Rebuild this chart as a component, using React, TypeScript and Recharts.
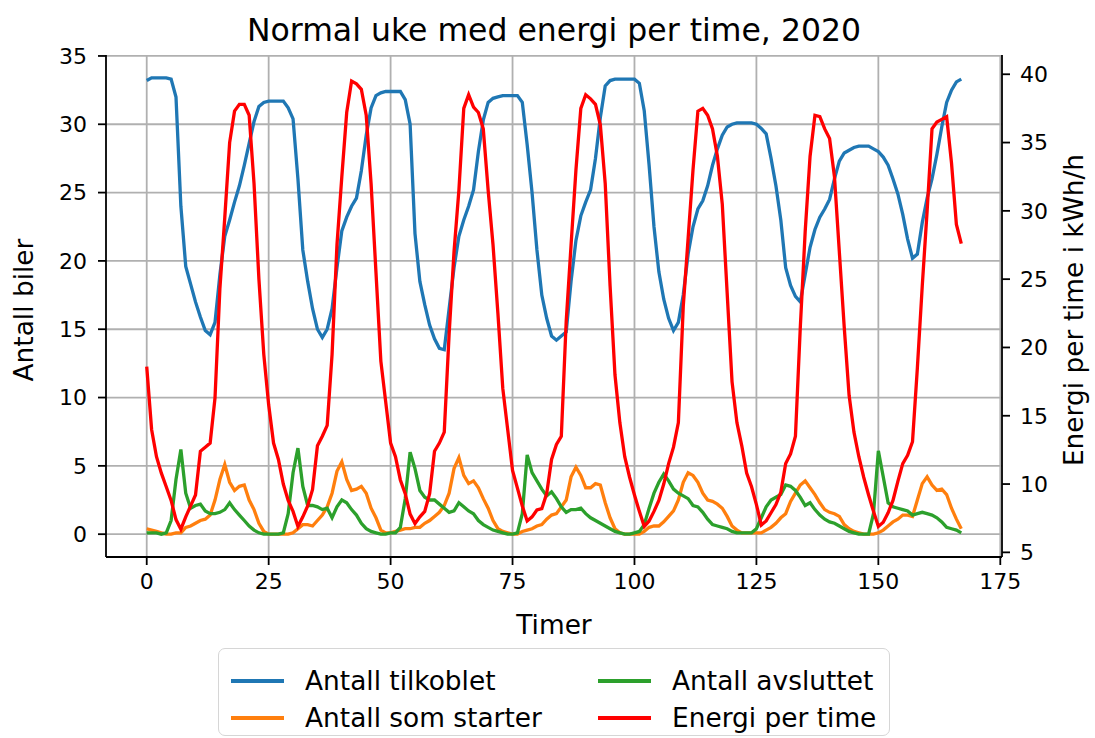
import { LineChart, Line, XAxis, YAxis, CartesianGrid } from "recharts";

const FONT = "'DejaVu Sans', sans-serif";

// hours of the week 0..167
const hours = Array.from({ length: 168 }, (_, i) => i);

const tilkoblet = [
  33.2, 33.4, 33.4, 33.4, 33.4, 33.3, 32.0, 24.0, 19.6, 18.3, 17.0, 15.9, 14.9, 14.6, 15.5, 19.0, 21.8, 23.0, 24.3, 25.5,
  27.0, 28.6, 30.2, 31.3, 31.6, 31.7, 31.7, 31.7, 31.7, 31.2, 30.4, 26.0, 20.8, 18.5, 16.5, 15.0, 14.4, 15.0, 16.5, 19.5,
  22.2, 23.2, 24.0, 24.6, 26.6, 29.2, 31.2, 32.1, 32.3, 32.4, 32.4, 32.4, 32.4, 31.8, 30.0, 22.0, 18.5, 16.8, 15.3, 14.3,
  13.6, 13.5, 16.5, 19.5, 21.8, 23.0, 24.0, 25.2, 28.0, 30.3, 31.6, 31.9, 32.0, 32.1, 32.1, 32.1, 32.1, 31.6, 28.5, 25.0,
  20.8, 17.5, 15.8, 14.5, 14.2, 14.5, 14.8, 18.5, 21.5, 23.3, 24.3, 25.2, 27.5, 30.5, 32.8, 33.2, 33.3, 33.3, 33.3, 33.3,
  33.3, 33.0, 31.0, 27.0, 22.5, 19.2, 17.2, 15.8, 14.9, 15.5, 17.5, 20.5, 22.5, 23.8, 24.4, 25.5, 27.0, 28.2, 29.2, 29.8,
  30.0, 30.1, 30.1, 30.1, 30.1, 30.0, 29.7, 29.3, 27.5, 25.5, 23.0, 19.5, 18.2, 17.4, 17.0, 19.0, 21.0, 22.3, 23.2, 23.8,
  24.5, 26.0, 27.3, 27.9, 28.1, 28.3, 28.4, 28.4, 28.4, 28.2, 28.0, 27.6, 27.0, 26.0, 24.9, 23.4, 21.6, 20.2, 20.5, 22.8,
  24.6, 26.0, 27.8, 29.8, 31.6, 32.5, 33.1, 33.3,
];

const starter = [
  0.4, 0.3, 0.2, 0.1, 0.0, 0.0, 0.1, 0.1, 0.5, 0.6, 0.8, 1.0, 1.1, 1.4, 2.5, 4.0, 5.1, 3.8, 3.2, 3.5,
  3.6, 2.5, 1.8, 0.8, 0.2, 0.0, 0.0, 0.0, 0.0, 0.0, 0.1, 0.4, 0.7, 0.7, 0.6, 1.0, 1.4, 2.0, 3.0, 4.6,
  5.3, 4.0, 3.2, 3.3, 3.5, 3.0, 1.9, 1.2, 0.3, 0.1, 0.1, 0.2, 0.3, 0.4, 0.4, 0.5, 0.5, 0.8, 1.0, 1.3,
  1.6, 2.1, 3.0, 4.8, 5.6, 4.3, 3.7, 3.9, 3.4, 2.6, 1.9, 1.0, 0.4, 0.2, 0.1, 0.0, 0.0, 0.2, 0.3, 0.4,
  0.6, 0.7, 1.1, 1.4, 1.5, 2.0, 2.5, 4.2, 4.9, 4.3, 3.4, 3.4, 3.7, 3.6, 2.3, 1.2, 0.4, 0.1, 0.0, 0.0,
  0.0, 0.0, 0.2, 0.5, 0.6, 0.6, 0.9, 1.3, 1.7, 2.5, 3.8, 4.5, 4.3, 3.8, 3.0, 2.5, 2.4, 2.2, 1.9, 1.3,
  0.6, 0.3, 0.1, 0.1, 0.1, 0.1, 0.1, 0.3, 0.5, 0.8, 1.2, 1.5, 2.4, 3.0, 3.6, 3.9, 3.4, 2.9, 2.3, 1.8,
  1.6, 1.5, 1.3, 0.7, 0.4, 0.2, 0.1, 0.0, 0.0, 0.0, 0.1, 0.3, 0.6, 0.9, 1.1, 1.4, 1.4, 1.3, 2.5, 3.7,
  4.2, 3.6, 3.2, 3.3, 2.9, 1.9, 1.1, 0.4,
];

const avsluttet = [
  0.1, 0.1, 0.1, 0.0, 0.1, 1.0, 4.0, 6.2, 3.0, 1.9, 2.1, 2.2, 1.7, 1.5, 1.5, 1.6, 1.8, 2.3, 1.8, 1.4,
  1.0, 0.6, 0.3, 0.1, 0.0, 0.0, 0.0, 0.0, 0.1, 1.5, 4.5, 6.3, 3.5, 2.1, 2.1, 2.0, 1.8, 1.9, 1.2, 2.0,
  2.5, 2.3, 1.8, 1.4, 0.8, 0.4, 0.2, 0.1, 0.0, 0.0, 0.1, 0.1, 0.5, 2.6, 6.0, 4.8, 3.2, 2.7, 2.5, 2.5,
  2.2, 1.9, 1.6, 1.7, 2.3, 2.0, 1.7, 1.5, 1.0, 0.7, 0.5, 0.3, 0.2, 0.1, 0.0, 0.0, 0.1, 1.5, 5.8, 4.5,
  3.9, 3.3, 2.8, 3.1, 2.6, 2.0, 1.6, 1.8, 1.8, 1.9, 1.5, 1.2, 1.0, 0.8, 0.6, 0.4, 0.2, 0.1, 0.0, 0.0,
  0.1, 0.2, 0.7, 1.9, 3.0, 3.8, 4.4, 3.9, 3.3, 3.0, 2.8, 2.6, 2.1, 2.0, 1.6, 1.1, 0.7, 0.6, 0.5, 0.4,
  0.2, 0.1, 0.1, 0.1, 0.1, 0.4, 1.2, 2.0, 2.5, 2.7, 2.9, 3.6, 3.5, 3.2, 2.7, 2.1, 2.3, 1.8, 1.4, 1.1,
  0.9, 0.8, 0.6, 0.4, 0.2, 0.1, 0.0, 0.0, 0.0, 1.5, 6.1, 4.2, 2.3, 2.0, 1.9, 1.8, 1.7, 1.4, 1.5, 1.6,
  1.5, 1.4, 1.2, 0.9, 0.5, 0.4, 0.3, 0.1,
];

const energi = [
  18.6, 14.0, 12.0, 10.8, 9.8, 8.8, 7.4, 6.7, 7.6, 8.4, 9.2, 12.4, 12.7, 13.0, 16.3, 24.3, 29.5, 35.0, 37.3, 37.8,
  37.8, 37.0, 32.0, 25.0, 19.5, 15.8, 13.0, 11.8, 10.0, 8.8, 8.0, 6.9, 7.6, 8.4, 9.6, 12.8, 13.5, 14.3, 19.5, 27.5,
  32.5, 37.2, 39.5, 39.3, 38.9, 37.0, 32.0, 25.5, 19.0, 16.0, 13.0, 12.0, 10.3, 9.3, 7.8, 7.1, 7.6, 8.0, 9.3, 12.4,
  13.0, 13.8, 21.0, 27.0, 31.5, 37.5, 38.5, 37.6, 37.2, 36.0, 31.5, 27.5, 22.5, 17.0, 14.0, 11.0, 9.7, 8.4, 7.3, 7.6,
  8.1, 8.2, 9.3, 11.8, 12.9, 13.5, 21.9, 27.5, 33.0, 37.5, 38.5, 38.2, 37.8, 36.3, 32.0, 24.5, 18.0, 14.5, 12.0, 10.5,
  9.2, 8.0, 6.9, 7.3, 8.0, 8.8, 10.0, 11.5, 12.7, 14.5, 23.0, 28.0, 33.0, 37.3, 37.5, 37.0, 36.0, 34.0, 30.5, 24.0,
  17.5, 14.5, 12.8, 10.8, 9.8, 8.5, 7.0, 7.3, 7.9, 8.5, 9.4, 11.5, 12.2, 13.5, 21.5, 28.5, 34.0, 37.0, 36.9, 36.0,
  35.3, 32.5, 27.0, 21.5, 16.5, 13.8, 12.0, 10.5, 9.2, 8.0, 6.9, 7.2, 7.9, 8.8, 10.2, 11.5, 12.1, 13.1, 18.5, 24.5,
  30.0, 36.0, 36.5, 36.7, 36.9, 33.5, 29.0, 27.6,
];

const xTicks = [0, 25, 50, 75, 100, 125, 150, 175];
const leftTicks = [0, 5, 10, 15, 20, 25, 30, 35];
const rightTicks = [5, 10, 15, 20, 25, 30, 35, 40];

const series = [
  { key: "tilkoblet", name: "Antall tilkoblet", color: "#1f77b4", axis: "left" },
  { key: "starter", name: "Antall som starter", color: "#ff7f0e", axis: "left" },
  { key: "avsluttet", name: "Antall avsluttet", color: "#2ca02c", axis: "left" },
  { key: "energi", name: "Energi per time", color: "#ff0000", axis: "right" },
];

const data = hours.map((h, i) => ({
  h,
  tilkoblet: tilkoblet[i],
  starter: starter[i],
  avsluttet: avsluttet[i],
  energi: energi[i],
}));

const tickStyle = { fill: "#000", fontSize: 22, fontFamily: FONT };
const spine = { stroke: "#000", strokeWidth: 1.8 };

// legend entries: [series index, left, top] inside the box
const legendSlots: [number, number, number][] = [
  [0, 12, 32],
  [1, 12, 69],
  [2, 379, 32],
  [3, 379, 69],
];

function LegendBox() {
  return (
    <div
      style={{
        position: "absolute",
        left: 218,
        top: 648,
        width: 672,
        height: 88,
        border: "1.8px solid #d6d6d6",
        borderRadius: 7,
        boxSizing: "border-box",
        fontSize: 26.4,
        fontFamily: FONT,
        color: "#000",
      }}
    >
      {legendSlots.map(([i, x, y]) => (
        <div key={series[i].key}>
          <div
            style={{
              position: "absolute",
              left: x,
              top: y - 1.6,
              width: 53,
              height: 3.3,
              background: series[i].color,
            }}
          />
          <div
            style={{
              position: "absolute",
              left: x + 74,
              top: y - 16,
              lineHeight: "31px",
              whiteSpace: "nowrap",
            }}
          >
            {series[i].name}
          </div>
        </div>
      ))}
    </div>
  );
}

const textBase = { position: "absolute" as const, color: "#000", whiteSpace: "nowrap" as const };

export default function App() {
  return (
    <div
      style={{
        position: "absolute",
        left: 0,
        top: 0,
        width: 1095,
        height: 738,
        background: "#fff",
        fontFamily: FONT,
        overflow: "hidden",
      }}
    >
      <div style={{ ...textBase, left: 0, width: 1108, top: 12, textAlign: "center", fontSize: 31.5 }}>
        Normal uke med energi per time, 2020
      </div>

      <LineChart
        width={1095}
        height={738}
        data={data}
        margin={{ top: 55, left: 26, right: 13, bottom: 121 }}
      >
        <CartesianGrid
          yAxisId="left"
          stroke="#b0b0b0"
          strokeWidth={1.8}
          horizontalValues={leftTicks}
          verticalValues={xTicks}
        />
        <XAxis
          dataKey="h"
          type="number"
          domain={[-8.35, 175.35]}
          ticks={xTicks}
          interval={0}
          allowDataOverflow
          height={60}
          tick={tickStyle}
          tickSize={8}
          tickMargin={8}
          tickLine={spine}
          axisLine={spine}
        />
        <XAxis
          xAxisId="top"
          orientation="top"
          dataKey="h"
          type="number"
          domain={[-8.35, 175.35]}
          height={0}
          tick={false}
          tickLine={false}
          axisLine={spine}
        />
        <YAxis
          yAxisId="left"
          type="number"
          domain={[-1.67, 35.07]}
          ticks={leftTicks}
          interval={0}
          allowDataOverflow
          width={80}
          tick={tickStyle}
          tickSize={8}
          tickMargin={11}
          tickLine={spine}
          axisLine={spine}
        />
        <YAxis
          yAxisId="right"
          orientation="right"
          type="number"
          domain={[4.66, 41.41]}
          ticks={rightTicks}
          interval={0}
          allowDataOverflow
          width={80}
          tick={tickStyle}
          tickSize={8}
          tickMargin={10}
          tickLine={spine}
          axisLine={spine}
        />
        {series.map((s) => (
          <Line
            key={s.key}
            yAxisId={s.axis}
            dataKey={s.key}
            name={s.name}
            type="linear"
            stroke={s.color}
            strokeWidth={3.3}
            dot={false}
            isAnimationActive={false}
          />
        ))}
      </LineChart>

      <div style={{ ...textBase, left: 0, width: 1108, top: 609, textAlign: "center", fontSize: 26.4 }}>
        Timer
      </div>
      <div
        style={{
          ...textBase,
          left: 23,
          top: 310,
          transform: "translate(-50%, -50%) rotate(-90deg)",
          fontSize: 26.4,
        }}
      >
        Antall biler
      </div>
      <div
        style={{
          ...textBase,
          left: 1073,
          top: 310,
          transform: "translate(-50%, -50%) rotate(-90deg)",
          fontSize: 26.4,
        }}
      >
        Energi per time i kWh/h
      </div>

      <LegendBox />
    </div>
  );
}
